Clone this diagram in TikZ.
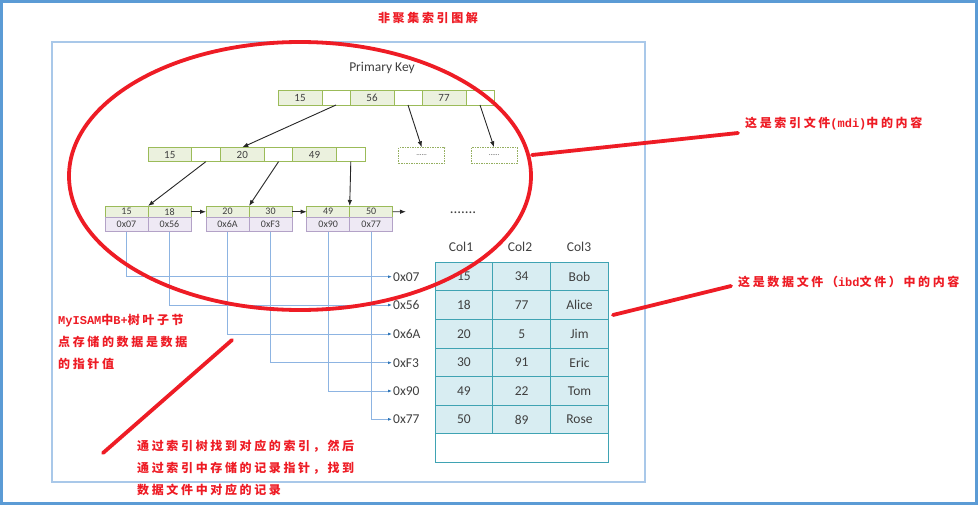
\documentclass[tikz,border=0pt]{standalone}
\usepackage{fontspec}
\setmainfont{Carlito}
\newfontfamily\cjkfont[LetterSpace=22]{Noto Sans CJK SC}
\newfontfamily\ascfont{Liberation Mono}
\usetikzlibrary{arrows.meta,positioning,calc}
\definecolor{markred}{HTML}{EE1C25}
\definecolor{keyfill}{HTML}{EBF1DE}
\definecolor{keyline}{HTML}{9BBB59}
\definecolor{ptrfill}{HTML}{EEE9F4}
\definecolor{ptrline}{HTML}{B3A2C7}
\definecolor{tabfill}{HTML}{D8EDF2}
\definecolor{tabline}{HTML}{3FA3B3}
\definecolor{linkblue}{HTML}{8DB4E2}
\definecolor{tipblue}{HTML}{2E75B6}
\definecolor{txtgray}{HTML}{404040}
\definecolor{framelt}{HTML}{A9C8E9}
\definecolor{framedk}{HTML}{5B9BD5}
\tikzset{
  keycell/.style  = {draw=keyline, fill=keyfill, line width=0.8pt, outer sep=0pt,
                     inner sep=0pt, minimum height=15pt, text=txtgray,
                     font=\fontsize{11}{11}\selectfont},
  gapcell/.style  = {keycell, fill=white},
  leafkey/.style  = {keycell, minimum width=43pt, minimum height=11.5pt,
                     font=\fontsize{10}{10}\selectfont},
  leafptr/.style  = {leafkey, draw=ptrline, fill=ptrfill, minimum height=14.3pt},
  dashcell/.style = {draw=keyline!80!gray, dashed, dash pattern=on 1.5pt off 1pt,
                     line width=0.8pt, minimum width=46pt, minimum height=15.4pt,
                     inner sep=0pt, text=txtgray, font=\fontsize{7}{7}\selectfont},
  tcell/.style    = {draw=tabline, fill=tabfill, line width=0.9pt, outer sep=0pt,
                     inner sep=0pt, minimum width=57.8pt, minimum height=28.6pt,
                     text=txtgray, font=\fontsize{13.5}{13.5}\selectfont},
  lbl/.style      = {text=txtgray, inner sep=1pt, font=\fontsize{13.5}{13.5}\selectfont},
  addr/.style     = {lbl, anchor=west},
  redtxt/.style   = {text=markred, inner sep=1pt, align=left,
                     font=\cjkfont\bfseries\fontsize{12}{22}\selectfont},
  redmark/.style  = {draw=markred, line width=3.8pt, line cap=round},
  treearrow/.style= {draw=black!85, line width=0.9pt, -{Latex[length=6pt,width=4.5pt]}},
  wire/.style     = {draw=linkblue, line width=0.8pt,
                     -{Latex[length=4pt,width=3pt,color=tipblue]}},
}
\newcommand{\ascpart}[1]{{\ascfont #1}}

\begin{document}
\begin{tikzpicture}[x=1pt, y=-1pt, node distance=0pt]
\useasboundingbox (0,0) rectangle (978,506);
\fill[white] (0,0) rectangle (978,506);
\draw[framedk, line width=2.5pt] (1.5,1.5) rectangle (976.5,503.5);
\draw[framelt, line width=1.5pt] (52,42) rectangle (645,482);

\node[redtxt] (title) at (428,18) {非聚集索引图解};
\node[lbl] (pk) at (382,67.5) {Primary Key};

% root
\node[keycell, minimum width=44pt, anchor=north west] (r1) at (278,90) {15};
\node[gapcell, right=of r1, minimum width=28pt] (r2) {};
\node[keycell, right=of r2, minimum width=44pt] (r3) {56};
\node[gapcell, right=of r3, minimum width=28pt] (r4) {};
\node[keycell, right=of r4, minimum width=44pt] (r5) {77};
\node[gapcell, right=of r5, minimum width=28pt] (r6) {};

% second level
\node[keycell, minimum width=43pt, minimum height=14.4pt, anchor=north west] (m1) at (148.3,147.3) {15};
\node[gapcell, right=of m1, minimum width=29pt, minimum height=14.4pt] (m2) {};
\node[keycell, right=of m2, minimum width=44pt, minimum height=14.4pt] (m3) {20};
\node[gapcell, right=of m3, minimum width=28.5pt, minimum height=14.4pt] (m4) {};
\node[keycell, right=of m4, minimum width=43.5pt, minimum height=14.4pt] (m5) {49};
\node[gapcell, right=of m5, minimum width=29pt, minimum height=14.4pt] (m6) {};
\node[dashcell, anchor=north west] (d1) at (398.3,147.3) {......};
\node[dashcell, anchor=north west] (d2) at (470.7,147.3) {......};

% leaves
\node[leafkey, anchor=north west] (k1) at (105,206) {15};
\node[leafkey, right=of k1] (k2) {18};
\node[leafkey, anchor=north west] (k3) at (206,206) {20};
\node[leafkey, right=of k3] (k4) {30};
\node[leafkey, anchor=north west] (k5) at (306.7,206) {49};
\node[leafkey, right=of k5] (k6) {50};
\node[leafptr, below=of k1] (p1) {0x07};
\node[leafptr, below=of k2] (p2) {0x56};
\node[leafptr, below=of k3] (p3) {0x6A};
\node[leafptr, below=of k4] (p4) {0xF3};
\node[leafptr, below=of k5] (p5) {0x90};
\node[leafptr, below=of k6] (p6) {0x77};
\coordinate (tail) at (406,211.7);
\node[text=txtgray, font=\fontsize{15}{15}\selectfont] (more) at (463,213) {.......};

\draw[treearrow] (r2.south) -- (m3.north);
\draw[treearrow] (r4.south) -- (d1.north);
\draw[treearrow] (r6.south) -- (d2.north);
\draw[treearrow] (m2.south) -- (k1.north east);
\draw[treearrow] (m4.south) -- (k3.north east);
\draw[treearrow] (m6.south) -- (k5.north east);
\draw[treearrow] (k2.east) -- (k3.west);
\draw[treearrow] (k4.east) -- (k5.west);
\draw[treearrow] (k6.east) -- (tail);

% data file
\node[lbl] (h1) at (461,246.7) {Col1};
\node[lbl] (h2) at (520,246.7) {Col2};
\node[lbl] (h3) at (579,246.7) {Col3};
\foreach \ca/\cb/\cc [count=\i] in {15/34/Bob, 18/77/Alice, 20/5/Jim,
                                    30/91/Eric, 49/22/Tom, 50/89/Rose}{
  \node[tcell] (ta\i) at (463.9,{248+28.6*\i}) {\ca};
  \node[tcell, right=of ta\i] (tb\i) {\cb};
  \node[tcell, right=of tb\i] (tc\i) {\cc};
}
\node[tcell, fill=white, minimum width=173.4pt, anchor=north west] (tend) at (435,433.9) {};

% record pointers
\node[addr] (a1) at (392,276.7) {0x07};
\node[addr] (a2) at (392,305) {0x56};
\node[addr] (a3) at (392,334) {0x6A};
\node[addr] (a4) at (392,362.7) {0xF3};
\node[addr] (a5) at (392,391) {0x90};
\node[addr] (a6) at (392,419.3) {0x77};
\draw[wire] (p1.south) |- (a1.west);
\draw[wire] (p2.south) |- (a2.west);
\draw[wire] (p3.south) |- (a3.west);
\draw[wire] (p4.south) |- (a4.west);
\draw[wire] (p5.south) |- (a5.west);
\draw[wire] (p6.south) |- (a6.west);

% notes
\node[redtxt, anchor=west] (idxnote) at (744,124) {这是索引文件\ascpart{(mdi)}中的内容};
\node[redtxt, anchor=west] (datnote) at (737,282) {这是数据文件（\ascpart{ibd}文件）中的内容};
\node[redtxt, anchor=north west] (leafnote) at (57,313) {\ascpart{MyISAM}中\ascpart{B+}树叶子节\\点存储的数据是数据\\的指针值};
\node[redtxt, anchor=north west] (findnote) at (136,439) {通过索引树找到对应的索引，然后\\通过索引中存储的记录指针，找到\\数据文件中对应的记录};
\coordinate (idxa) at (532,155);
\coordinate (idxb) at (738,133);
\coordinate (data) at (613,315);
\coordinate (datb) at (731,286);
\coordinate (finda) at (232,340);
\coordinate (findb) at (103,453);
\draw[redmark] (300,176) ellipse [x radius=231, y radius=134];
\draw[redmark] (idxa) -- (idxb);
\draw[redmark] (data) -- (datb);
\draw[redmark] (finda) -- (findb);
\end{tikzpicture}
\end{document}
